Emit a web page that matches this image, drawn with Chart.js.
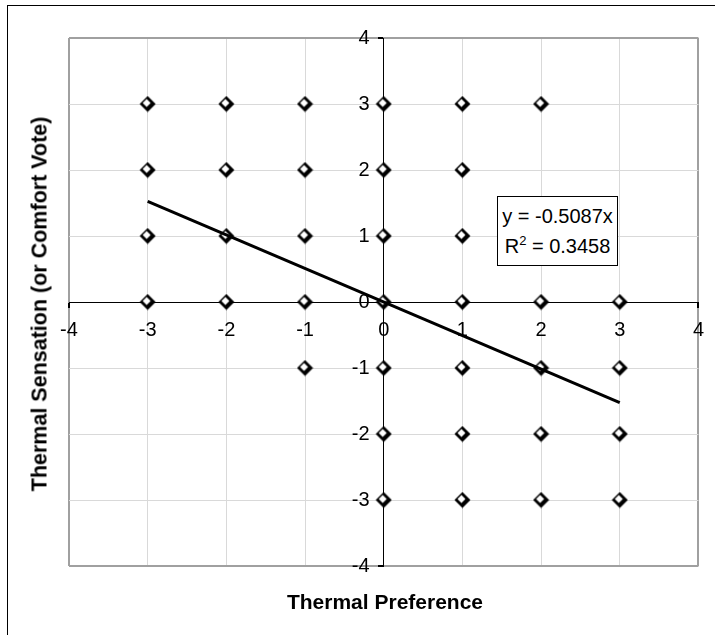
<!DOCTYPE html>
<html>
<head>
<meta charset="utf-8">
<title>Thermal Sensation vs Thermal Preference</title>
<script src="https://cdn.jsdelivr.net/npm/chart.js@4/dist/chart.umd.min.js"></script>
<style>
    html, body { margin: 0; padding: 0; background: #fff; overflow: hidden; }
    #wrap { position: relative; width: 715px; height: 635px; overflow: hidden; }
    #frame {
        position: absolute; left: 7px; top: 5px; width: 800px; height: 700px;
        border-left: 1px solid #000; border-top: 1px solid #000;
    }
    canvas { position: absolute; left: 0; top: 0; }
    .axis-title {
        position: absolute; font-family: Arial, "Liberation Sans", sans-serif;
        font-weight: bold; font-size: 21px; color: #000; white-space: nowrap;
    }
    #xTitle { left: 385px; top: 602px; transform: translate(-50%, -50%); }
    #yTitle { left: 40px; top: 304px; font-size: 21.5px; transform: translate(-50%, -50%) rotate(-90deg); }
    #eqBox {
        position: absolute; left: 497px; top: 196px; width: 119px; height: 64px;
        padding-top: 4px; border: 1px solid #000; background: #fff;
        font-family: Arial, "Liberation Sans", sans-serif; font-size: 20px;
        line-height: 30px; text-align: center; color: #000;
    }
    #eqBox sup { font-size: 13px; line-height: 0; vertical-align: 8px; }
</style>
</head>
<body>
<div id="wrap">
    <div id="frame"></div>
    <canvas id="prefChart" width="715" height="635"></canvas>
    <div id="xTitle" class="axis-title">Thermal Preference</div>
    <div id="yTitle" class="axis-title">Thermal Sensation (or Comfort Vote)</div>
    <div id="eqBox">y = -0.5087x<br>R<sup>2</sup> = 0.3458</div>
</div>
<script>
// Survey votes (thermal preference vs sensation)
const preference = [
    -3, -3, -3, -3,
    -2, -2, -2, -2,
    -1, -1, -1, -1, -1,
    0, 0, 0, 0, 0, 0, 0,
    1, 1, 1, 1, 1, 1, 1,
    2, 2, 2, 2, 2,
    3, 3, 3, 3,
];
const sensation = [
    3, 2, 1, 0,
    3, 2, 1, 0,
    3, 2, 1, 0, -1,
    3, 2, 1, 0, -1, -2, -3,
    3, 2, 1, 0, -1, -2, -3,
    3, 0, -1, -2, -3,
    0, -1, -2, -3,
];

// Linear trendline through origin: y = -0.5087x
const trendX = [-3, 3];
const trendY = [1.526, -1.526];

const axisMin = -4;
const axisMax = 4;

// Excel-style diamond marker with dark lower-right edge
function makeDiamond() {
    const c = document.createElement('canvas');
    c.width = 17;
    c.height = 17;
    const g = c.getContext('2d');
    g.fillStyle = '#000';
    g.beginPath();
    g.moveTo(8.5, 0.5); g.lineTo(16.5, 8.5); g.lineTo(8.5, 16.5); g.lineTo(0.5, 8.5);
    g.closePath();
    g.fill();
    g.fillStyle = '#fff';
    g.beginPath();
    g.moveTo(7.5, 3.5); g.lineTo(11.5, 7.5); g.lineTo(7.5, 11.5); g.lineTo(3.5, 7.5);
    g.closePath();
    g.fill();
    return c;
}

document.addEventListener('DOMContentLoaded', () => {
    const points = preference.map((x, i) => ({ x, y: sensation[i] }));
    const trend = trendX.map((x, i) => ({ x, y: trendY[i] }));
    const font = { family: 'Arial, "Liberation Sans", sans-serif', size: 20 };

    const gridColor = ctx => (Math.abs(ctx.tick.value) === 4 ? '#a0a0a0' : '#d9d9d9');
    const gridWidth = ctx => (Math.abs(ctx.tick.value) === 4 ? 2 : 1);

    const ctx = document.getElementById('prefChart').getContext('2d');
    new Chart(ctx, {
        type: 'scatter',
        data: {
            datasets: [
                {
                    type: 'line',
                    label: 'Trend',
                    data: trend,
                    borderColor: '#000',
                    borderWidth: 3,
                    pointRadius: 0,
                    fill: false,
                    order: 0,
                },
                {
                    label: 'Votes',
                    data: points,
                    pointStyle: makeDiamond(),
                    order: 1,
                },
            ],
        },
        options: {
            responsive: false,
            animation: false,
            layout: { padding: { left: 69, top: 38, right: 16, bottom: 69 } },
            plugins: {
                legend: { display: false },
                tooltip: { enabled: false },
            },
            scales: {
                x: {
                    type: 'linear',
                    position: { y: 0 },
                    min: axisMin,
                    max: axisMax,
                    ticks: { stepSize: 1, color: '#000', font, padding: 11, maxRotation: 0 },
                    grid: { color: gridColor, lineWidth: gridWidth, tickColor: '#000', tickLength: 5 },
                    border: { display: true, color: '#000', width: 1 },
                },
                y: {
                    type: 'linear',
                    position: { x: 0 },
                    min: axisMin,
                    max: axisMax,
                    ticks: { display: false, stepSize: 1 },
                    grid: { color: gridColor, lineWidth: gridWidth, tickColor: '#000', tickLength: 5 },
                    border: { display: true, color: '#000', width: 1 },
                },
                // label column just left of the vertical axis
                yLabels: {
                    type: 'linear',
                    axis: 'y',
                    position: { x: -0.18 },
                    min: axisMin,
                    max: axisMax,
                    ticks: { stepSize: 1, color: '#000', font },
                    grid: { display: false },
                    border: { display: false },
                },
            },
        },
    });
});
</script>
</body>
</html>
